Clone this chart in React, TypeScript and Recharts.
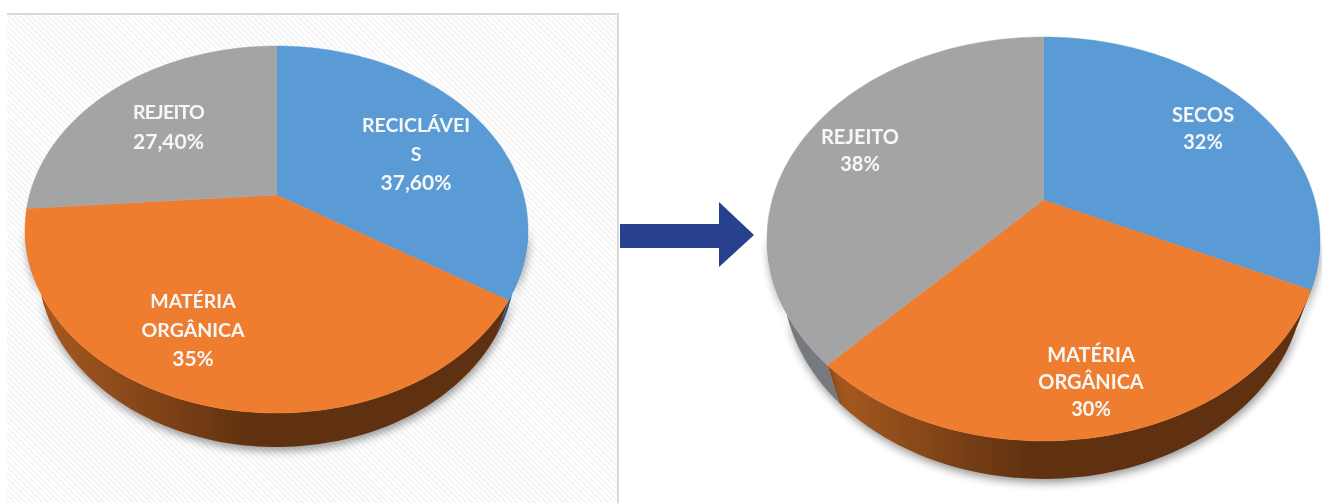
import React from 'react';
import { Pie, PieChart } from 'recharts';

const sliceColors = ['#5b9bd5', '#ef7d2f', '#a4a4a4'];
const font = 'Lato, "Open Sans", sans-serif';

// left pie: the drawn slices are not quite what the printed labels say, shares are read off the shape
const leftCategories = ['RECICLÁVEIS', 'MATÉRIA ORGÂNICA', 'REJEITO'];
const leftShares = [34, 39.8, 26.2];
const leftLabels = [['RECICLÁVEI', 'S', '37,60%'], ['MATÉRIA', 'ORGÂNICA', '35%'], ['REJEITO', '27,40%']];

const rightCategories = ['SECOS', 'MATÉRIA ORGÂNICA', 'REJEITO'];
const rightShares = [32, 30, 38];
const rightLabels = [['SECOS', '32%'], ['MATÉRIA', 'ORGÂNICA', '30%'], ['REJEITO', '38%']];

const leftView = {
  cx: 276.5, cy: 195, a: 247, b: 177, k: 0.188, depth: 34, ring: 0.95,
  wallFills: ['#2f5d88', 'url(#wallLeft)', '#767a7e'],
  labelSpots: [[416, 124], [193, 300], [168.5, 111]],
  labelGap: 28.5,
  fontSize: 19.5,
  numberSize: 21,
  rejeitoTrack: -0.7,
};
const rightView = {
  cx: 1043.5, cy: 200, a: 271.3, b: 194.4, k: 0.193, depth: 38, ring: 0.945,
  wallFills: ['#2f5d88', 'url(#wallRight)', '#767a7e'],
  labelSpots: [[1203, 114], [1091, 354], [860, 136]],
  labelGap: 27,
  fontSize: 20,
  numberSize: 20,
  rejeitoTrack: 0,
};
type View = typeof leftView;

// tilted disc: clockwise degrees from 12 o'clock to a point on the rim
function rim(v: View, theta: number) {
  const rad = (theta * Math.PI) / 180;
  const x = Math.sin(rad);
  const y = -Math.cos(rad);
  const s = 1 / (1 - v.k * y);
  return [v.cx + v.a * x * s, v.cy + v.b * y * s];
}

function arc(v: View, from: number, to: number) {
  const pts: number[][] = [];
  const steps = Math.max(2, Math.ceil((to - from) / 1.5));
  for (let i = 0; i <= steps; i++) pts.push(rim(v, from + ((to - from) * i) / steps));
  return pts;
}

const toPath = (pts: number[][]) =>
  pts.map((p, i) => `${i ? 'L' : 'M'}${p[0].toFixed(2)},${p[1].toFixed(2)}`).join(' ') + ' Z';

function topShape(v: View) {
  return (props: any) => {
    const pts = [[v.cx, v.cy], ...arc(v, 90 - props.startAngle, 90 - props.endAngle)];
    return <path d={toPath(pts)} fill={props.fill} stroke={props.fill} strokeWidth={0.5} />;
  };
}

function wallShape(v: View) {
  return (props: any) => {
    // only the front of the rim has a wall
    const from = Math.max(90 - props.startAngle, 100);
    const to = Math.min(90 - props.endAngle, 260);
    if (from >= to) return <g />;
    const top = arc(v, from, to);
    const bottom = top
      .map((p) => [v.cx + (p[0] - v.cx) * v.ring, p[1] + v.depth])
      .reverse();
    return (
      <path
        d={toPath([...top, ...bottom])}
        fill={props.fill}
        style={{ filter: 'drop-shadow(1px 4px 4px rgba(0,0,0,0.4))' }}
      />
    );
  };
}

function sliceLabel(v: View, lines: string[][]) {
  return (props: any) => {
    const [x, y] = v.labelSpots[props.index];
    return (
      <text
        x={x}
        y={y}
        textAnchor="middle"
        dominantBaseline="central"
        fill="#f7f7f7"
        fontFamily={font}
        fontWeight={700}
        fontSize={v.fontSize}
        style={{ filter: 'blur(0.5px)' }}
      >
        {lines[props.index].map((line, i) => (
          <tspan
            key={line}
            x={x}
            y={y + i * v.labelGap}
            fontSize={/\d/.test(line) ? v.numberSize : v.fontSize}
            letterSpacing={line === 'REJEITO' ? v.rejeitoTrack : 0}
          >
            {line}
          </tspan>
        ))}
      </text>
    );
  };
}

const tops = (names: string[], shares: number[]) =>
  names.map((name, i) => ({ name, value: shares[i], fill: sliceColors[i] }));
const walls = (names: string[], shares: number[], v: View) =>
  names.map((name, i) => ({ name, value: shares[i], fill: v.wallFills[i] }));

function TiltedPie(v: View, names: string[], shares: number[], lines: string[][]) {
  return [
    <Pie
      key="wall"
      data={walls(names, shares, v)}
      dataKey="value"
      cx={v.cx}
      cy={v.cy}
      outerRadius={v.a}
      startAngle={90}
      endAngle={-270}
      stroke="none"
      shape={wallShape(v)}
      isAnimationActive={false}
    />,
    <Pie
      key="top"
      data={tops(names, shares)}
      dataKey="value"
      cx={v.cx}
      cy={v.cy}
      outerRadius={v.a}
      startAngle={90}
      endAngle={-270}
      stroke="none"
      shape={topShape(v)}
      label={sliceLabel(v, lines)}
      labelLine={false}
      isAnimationActive={false}
    />,
  ];
}

export default function App() {
  return (
    <div style={{ position: 'absolute', left: 0, top: 0, width: 1322, height: 503, overflow: 'hidden', background: '#fff' }}>
      <div
        style={{
          position: 'absolute',
          left: 7,
          top: 13,
          width: 610,
          height: 490,
          borderTop: '2px solid #d9d9d9',
          borderRight: '2px solid #d9d9d9',
          background: 'repeating-linear-gradient(45deg, #ffffff 0 2px, #f5f5f5 2px 4px)',
        }}
      />
      <div
        style={{
          position: 'absolute',
          left: 620,
          top: 202,
          width: 134,
          height: 65,
          background: '#27418f',
          clipPath: 'polygon(0 22px, 99px 22px, 99px 0, 134px 33px, 99px 65px, 99px 46px, 0 46px)',
        }}
      />
      <div style={{ position: 'absolute', left: 0, top: 0 }}>
        <PieChart width={1322} height={503} margin={{ top: 0, right: 0, bottom: 0, left: 0 }}>
          <defs>
            <linearGradient id="wallLeft" gradientUnits="userSpaceOnUse" x1="40" y1="0" x2="250" y2="0">
              <stop offset="0%" stopColor="#a85a20" />
              <stop offset="100%" stopColor="#603110" />
            </linearGradient>
            <linearGradient id="wallRight" gradientUnits="userSpaceOnUse" x1="832" y1="0" x2="1030" y2="0">
              <stop offset="0%" stopColor="#a85a20" />
              <stop offset="100%" stopColor="#603110" />
            </linearGradient>
          </defs>
          {TiltedPie(leftView, leftCategories, leftShares, leftLabels)}
          {TiltedPie(rightView, rightCategories, rightShares, rightLabels)}
        </PieChart>
      </div>
    </div>
  );
}
